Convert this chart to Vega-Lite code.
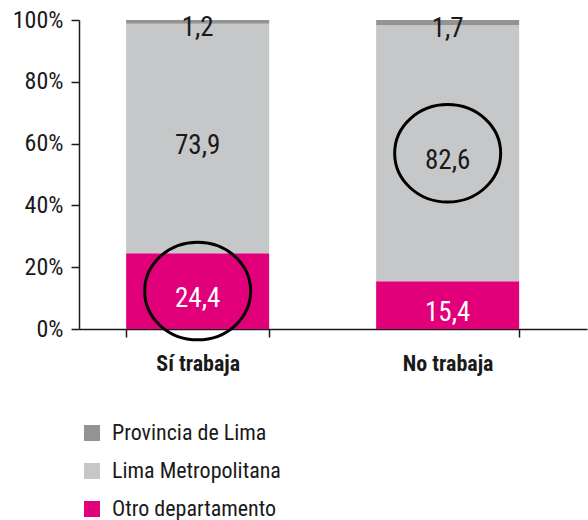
{
  "$schema": "https://vega.github.io/schema/vega-lite/v6.json",
  "autosize": "none",
  "width": 508,
  "height": 309,
  "padding": {"left": 79, "top": 20, "right": 1, "bottom": 191},
  "config": {
    "locale": {"number": {"decimal": ",", "thousands": ".", "grouping": [3], "currency": ["", " €"]}},
    "view": {"stroke": null},
    "font": "Roboto Condensed, DejaVu Sans Condensed, sans-serif"
  },
  "data": {
    "values": [
      {"trabajo": "Sí trabaja", "origen": "Otro departamento", "orden": 1, "pct": 24.4, "resaltado": true},
      {"trabajo": "Sí trabaja", "origen": "Lima Metropolitana", "orden": 2, "pct": 73.9, "resaltado": false},
      {"trabajo": "Sí trabaja", "origen": "Provincia de Lima", "orden": 3, "pct": 1.2, "resaltado": false},
      {"trabajo": "No trabaja", "origen": "Otro departamento", "orden": 1, "pct": 15.4, "resaltado": false},
      {"trabajo": "No trabaja", "origen": "Lima Metropolitana", "orden": 2, "pct": 82.6, "resaltado": true},
      {"trabajo": "No trabaja", "origen": "Provincia de Lima", "orden": 3, "pct": 1.7, "resaltado": false}
    ]
  },
  "encoding": {
    "x": {
      "field": "trabajo",
      "type": "nominal",
      "sort": ["Sí trabaja", "No trabaja"],
      "scale": {"paddingInner": 0.428, "paddingOuter": 0.23, "align": 0.41},
      "axis": {
        "title": null,
        "labelAngle": 0,
        "labelFontSize": 22,
        "labelFontWeight": "bold",
        "labelColor": "#1a1a1a",
        "labelPadding": 16,
        "tickBand": "extent",
        "tickSize": 8,
        "tickColor": "#1a1a1a",
        "tickWidth": 1.5,
        "domainColor": "#1a1a1a",
        "domainWidth": 1.5
      }
    },
    "y": {
      "field": "pct",
      "type": "quantitative",
      "stack": "normalize",
      "scale": {"domain": [0, 1]},
      "axis": {
        "title": null,
        "values": [0, 0.2, 0.4, 0.6, 0.8, 1],
        "format": ".0%",
        "grid": false,
        "labelFontSize": 24,
        "labelColor": "#1a1a1a",
        "labelPadding": 8,
        "tickSize": 8,
        "tickColor": "#1a1a1a",
        "tickWidth": 1.5,
        "domainColor": "#1a1a1a",
        "domainWidth": 1.5
      }
    },
    "order": {"field": "orden", "type": "quantitative"}
  },
  "layer": [
    {
      "mark": {"type": "bar"},
      "encoding": {
        "color": {
          "field": "origen",
          "type": "nominal",
          "scale": {
            "domain": ["Provincia de Lima", "Lima Metropolitana", "Otro departamento"],
            "range": ["#939393", "#c6c7c9", "#e2007a"]
          },
          "legend": {
            "title": null,
            "orient": "none",
            "legendX": 2,
            "legendY": 402,
            "direction": "vertical",
            "symbolType": "square",
            "symbolSize": 256,
            "symbolStrokeWidth": 0,
            "labelFontSize": 22,
            "labelColor": "#1a1a1a",
            "labelOffset": 9,
            "labelLimit": 0,
            "rowPadding": 16,
            "padding": 0
          }
        }
      }
    },
    {
      "mark": {"type": "text", "fontSize": 27, "baseline": "middle", "dy": 8},
      "encoding": {
        "y": {"field": "pct", "type": "quantitative", "stack": "normalize", "bandPosition": 0.5},
        "text": {"field": "pct", "type": "quantitative", "format": ".1f"},
        "color": {
          "condition": {"test": "datum.origen === 'Otro departamento'", "value": "#ffffff"},
          "value": "#1a1a1a"
        },
        "opacity": {
          "condition": {"test": "datum.origen === 'Provincia de Lima'", "value": 0},
          "value": 1
        }
      }
    },
    {
      "mark": {"type": "text", "fontSize": 27, "baseline": "middle", "dy": 6, "color": "#1a1a1a"},
      "encoding": {
        "y": {"field": "pct", "type": "quantitative", "stack": "normalize", "bandPosition": 0.5},
        "text": {"field": "pct", "type": "quantitative", "format": ".1f"},
        "opacity": {
          "condition": {"test": "datum.origen === 'Provincia de Lima'", "value": 1},
          "value": 0
        }
      }
    },
    {
      "mark": {
        "type": "point",
        "shape": "M-1,0A1,0.92,0,1,0,1,0A1,0.92,0,1,0,-1,0Z",
        "size": 11236,
        "filled": false,
        "opacity": 1,
        "stroke": "#000000",
        "strokeWidth": 3
      },
      "encoding": {
        "y": {"field": "pct", "type": "quantitative", "stack": "normalize", "bandPosition": 0.5},
        "strokeOpacity": {
          "condition": {"test": "datum.resaltado", "value": 1},
          "value": 0
        }
      }
    }
  ]
}
